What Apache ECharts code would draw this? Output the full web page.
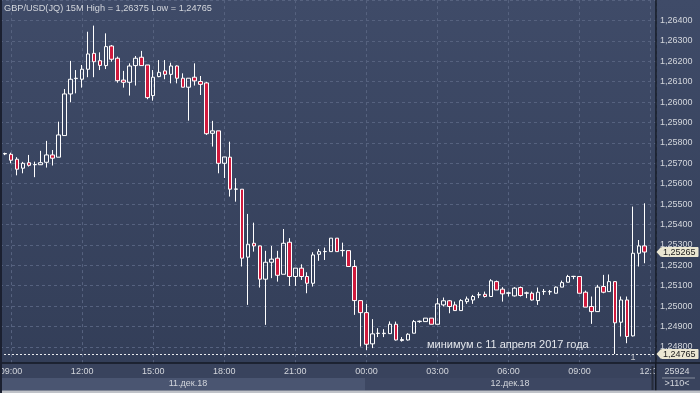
<!DOCTYPE html>
<html><head><meta charset="utf-8">
<script src="https://cdn.jsdelivr.net/npm/echarts/dist/echarts.min.js"></script>
<style>
html,body{margin:0;padding:0;background:#37425d;overflow:hidden;width:700px;height:393px;}
#c{width:763px;height:393px;margin-left:-63px;background:linear-gradient(#3f4b68,#323d57);}
</style>
</head><body><div id="c"></div>
<script>
// ---- data (GBP/USD 15M bars, 08:45 11 Dec -> 11:45 12 Dec) ----
const timeLabels = ['09:00','12:00','15:00','18:00','21:00','00:00','03:00','06:00','09:00','12:00'];
const dateLabels = ['11.дек.18','12.дек.18'];
const titleText = 'GBP/USD(JQ) 15M High = 1,26375 Low = 1,24765';
const noteText = 'минимум с 11 апреля 2017 года';
const volumeText = '25924';
const barCountText = '>110<';
const markerText = '1';
const lowLevel = 1.24765;
const lastLevel = 1.25265;
const firstSlot = -1; // first bar is one 15-min slot before 09:00

const opens = [
1.25746,1.25744,1.25720,1.25676,1.25703,1.25693,1.25693,1.25705,1.25741,1.25730,
1.25836,1.26040,1.26115,1.26112,1.26161,1.26239,1.26203,1.26179,1.26275,1.26215,
1.26108,1.26097,1.26179,1.26220,1.26182,1.26032,1.26125,1.26153,1.26136,1.26177,
1.26117,1.26073,1.26122,1.26101,1.26094,1.25847,1.25859,1.25700,1.25730,1.25573,
1.25573,1.25240,1.25308,1.25295,1.25132,1.25215,1.25235,1.25156,1.25313,1.25145,
1.25186,1.25145,1.25112,1.25254,1.25267,1.25267,1.25333,1.25272,1.25272,1.25194,
1.25027,1.24968,1.24815,1.24866,1.24865,1.24865,1.24911,1.24831,1.24834,1.24867,
1.24924,1.24924,1.24941,1.24911,1.25006,1.25026,1.25006,1.24978,1.25022,1.25030,
1.25055,1.25058,1.25047,1.25120,1.25083,1.25063,1.25050,1.25091,1.25063,1.25063,
1.25027,1.25071,1.25070,1.25063,1.25093,1.25117,1.25145,1.25145,1.25068,1.24998,
1.24973,1.25096,1.25071,1.25120,1.24921,1.25030,1.24854,1.25259,1.25295];
const closes = [
1.25748,1.25715,1.25671,1.25700,1.25690,1.25694,1.25703,1.25741,1.25725,1.25839,
1.26040,1.26112,1.26117,1.26161,1.26236,1.26198,1.26180,1.26272,1.26210,1.26105,
1.26097,1.26177,1.26215,1.26179,1.26022,1.26122,1.26146,1.26136,1.26177,1.26117,
1.26073,1.26117,1.26104,1.26087,1.25845,1.25859,1.25700,1.25731,1.25573,1.25574,
1.25235,1.25303,1.25295,1.25132,1.25215,1.25230,1.25151,1.25308,1.25145,1.25186,
1.25145,1.25112,1.25251,1.25267,1.25268,1.25333,1.25267,1.25273,1.25194,1.25027,
1.24968,1.24813,1.24864,1.24867,1.24867,1.24911,1.24834,1.24836,1.24862,1.24924,
1.24926,1.24941,1.24911,1.25011,1.25026,1.24998,1.24978,1.25027,1.25035,1.25047,
1.25056,1.25047,1.25124,1.25079,1.25060,1.25065,1.25088,1.25052,1.25065,1.25030,
1.25068,1.25072,1.25071,1.25093,1.25115,1.25145,1.25146,1.25063,1.24995,1.24973,
1.25093,1.25068,1.25120,1.24918,1.25030,1.24851,1.25259,1.25295,1.25265];
const lows = [
1.25740,1.25700,1.25641,1.25651,1.25684,1.25632,1.25692,1.25679,1.25689,1.25730,
1.25836,1.25999,1.26043,1.26071,1.26122,1.26122,1.26157,1.26162,1.26198,1.26095,
1.26071,1.26032,1.26081,1.26179,1.26014,1.26007,1.26122,1.26112,1.26092,1.26092,
1.26073,1.25909,1.26081,1.26035,1.25839,1.25782,1.25651,1.25628,1.25537,1.25512,
1.25194,1.25006,1.25267,1.25091,1.24908,1.25137,1.25120,1.25156,1.25099,1.25099,
1.25128,1.25063,1.25096,1.25222,1.25226,1.25267,1.25267,1.25243,1.25194,1.24957,
1.24802,1.24785,1.24794,1.24848,1.24848,1.24864,1.24831,1.24826,1.24831,1.24867,
1.24918,1.24924,1.24911,1.24911,1.24998,1.24965,1.24978,1.24978,1.25011,1.25011,
1.25039,1.25042,1.25047,1.25079,1.25022,1.25047,1.25047,1.25047,1.25039,1.25027,
1.25006,1.25055,1.25055,1.25063,1.25093,1.25117,1.25132,1.25063,1.24995,1.24913,
1.24973,1.25063,1.25071,1.24765,1.24851,1.24818,1.24851,1.25194,1.25210];
const highs = [
1.25752,1.25752,1.25730,1.25707,1.25741,1.25708,1.25761,1.25810,1.25765,1.25904,
1.26064,1.26202,1.26157,1.26182,1.26345,1.26375,1.26244,1.26337,1.26280,1.26223,
1.26153,1.26190,1.26226,1.26251,1.26182,1.26157,1.26206,1.26206,1.26193,1.26180,
1.26141,1.26117,1.26190,1.26128,1.26099,1.25908,1.25859,1.25731,1.25806,1.25627,
1.25573,1.25452,1.25409,1.25295,1.25271,1.25295,1.25271,1.25378,1.25333,1.25186,
1.25205,1.25166,1.25264,1.25280,1.25287,1.25333,1.25333,1.25311,1.25272,1.25226,
1.25027,1.25011,1.24936,1.24892,1.24887,1.24925,1.24924,1.24848,1.24867,1.24932,
1.24929,1.24941,1.24941,1.25039,1.25042,1.25030,1.25022,1.25034,1.25047,1.25055,
1.25068,1.25071,1.25132,1.25125,1.25093,1.25071,1.25093,1.25096,1.25071,1.25071,
1.25091,1.25084,1.25079,1.25096,1.25125,1.25153,1.25148,1.25145,1.25076,1.25047,
1.25104,1.25153,1.25155,1.25120,1.25047,1.25047,1.25488,1.25324,1.25504];

// ---- build ----
const OX = 63; // canvas is shifted 63px left of the page so the first bars sit at the page edge
const font = 'Liberation Sans, Arial, sans-serif';
const gridColor = '#56627f';
const labelColor = '#d3d6dc';
const tagColor = '#ebe7d2';
const fmtPrice = v => v.toFixed(5).replace('.', ',');
const candles = opens.map((o, k) => [firstSlot + k, o, closes[k], lows[k], highs[k]]);

const txt = (text, x, y, extra) => Object.assign({
  type: 'text', x: x, y: y, z: 6, silent: true,
  style: Object.assign({text: text, fill: labelColor, fontSize: 9, fontFamily: font,
    align: 'center', verticalAlign: 'middle', textAlign: 'center', textVerticalAlign: 'middle'}, (extra && extra.style) || {})
}, extra && extra.z != null ? {z: extra.z} : {});
const rect = (x, y, w, h, fill, z) => ({type: 'rect', z: z, silent: true, shape: {x: x, y: y, width: w, height: h}, style: {fill: fill}});

const chart = echarts.init(document.getElementById('c'), null, {renderer: 'canvas'});
const baseGraphics = [
  rect(-OX, 363, 656 + OX, 15, '#39435d', 5),
  rect(-OX, 378, 365 + OX, 12.5, '#4a5571', 5),
  rect(365, 378, 291, 12.5, '#3d4762', 5),
  rect(651.5, 366, 2, 24, '#262c3b', 11),
  rect(656, 363, 44, 27.5, '#39435d', 12),
  rect(655, 363, 1.5, 28, '#151a25', 13),
  rect(656, 362.3, 44, 1.5, '#151a25', 13),
  {type: 'line', z: 13, silent: true, shape: {x1: 662, y1: 378, x2: 695, y2: 378}, style: {stroke: '#858c9c', lineWidth: 1}},
  rect(-OX, 390.5, 700 + OX, 2.5, '#bfc2c8', 13),
  rect(0, 0, 2, 393, '#1b2030', 13),
  txt(volumeText, 677, 371.5, {z: 14}),
  txt(barCountText, 677, 384, {z: 14}),
  txt(dateLabels[0], 188, 384),
  txt(dateLabels[1], 510, 384),
  txt(markerText, 633, 358, {style: {fill: '#c0c4cc'}}),
  txt(titleText, 4, 8.5, {style: {align: 'left', textAlign: 'left', fontSize: 9.2}}),
  txt(noteText, 427, 345, {style: {align: 'left', textAlign: 'left', fontSize: 11, fill: '#e4e7ec'}})
];
chart.setOption({
  animation: false,
  backgroundColor: 'transparent',
  grid: {left: 0, right: 44, top: 0.1, bottom: 25.7},
  xAxis: [
    {type: 'value', min: -12, max: 108.9, interval: 12, position: 'top',
     axisLine: {show: false}, axisTick: {show: false}, axisLabel: {show: false},
     splitLine: {show: true, lineStyle: {color: gridColor, type: [3, 3], width: 1}}},
    {type: 'value', min: -12, max: 108.9, interval: 12, position: 'bottom', offset: -4.3, z: 10,
     axisLine: {show: true, onZero: false, lineStyle: {color: '#151a25', width: 1.5}},
     axisTick: {show: false}, splitLine: {show: false},
     axisLabel: {color: labelColor, fontSize: 9, fontFamily: font, margin: 4,
       formatter: v => (v >= 0 && v % 12 === 0 && timeLabels[v / 12]) ? timeLabels[v / 12] : ''}}
  ],
  yAxis: {type: 'value', position: 'right', min: 1.247, max: 1.265, interval: 0.001,
    axisLine: {show: true, onZero: false, lineStyle: {color: '#151a25', width: 1.5}},
    axisTick: {show: false},
    splitLine: {show: true, lineStyle: {color: gridColor, type: [3, 3], width: 1}},
    axisLabel: {color: labelColor, fontSize: 9, fontFamily: font, margin: 4,
      showMinLabel: false, showMaxLabel: false, formatter: fmtPrice}},
  series: [{
    type: 'candlestick', xAxisIndex: 0, yAxisIndex: 0, data: candles,
    barWidth: 4, clip: false, silent: true,
    itemStyle: {color: 'transparent', color0: '#d01a3d', borderColor: '#ffffff',
      borderColor0: '#ffffff', borderColorDoji: '#ffffff', borderWidth: 1},
    markLine: {
      symbol: ['none', 'none'], silent: true, animation: false, precision: 5,
      label: {show: true, position: 'end', distance: 5, backgroundColor: tagColor,
        color: '#1b1b1b', fontSize: 9, fontFamily: font, padding: [1, 3, 0, 2], borderRadius: 1},
      data: [
        {yAxis: lowLevel, lineStyle: {color: '#e9ebef', type: [2, 2], width: 1},
         label: {formatter: fmtPrice(lowLevel)}},
        {yAxis: lastLevel, lineStyle: {color: 'rgba(0,0,0,0)', width: 1},
         label: {formatter: fmtPrice(lastLevel)}}
      ]
    }
  }],
  graphic: [{type: 'group', id: 'frame', x: OX, y: 0, children: baseGraphics}]
});

// little left-pointing arrows of the price tags, placed through the y scale
const arrows = [lowLevel, lastLevel].map(v => {
  const py = chart.convertToPixel({yAxisIndex: 0}, v);
  return {type: 'polygon', z: 20, silent: true,
    shape: {points: [[656.5, py], [661, py - 5], [661, py + 5]]}, style: {fill: tagColor}};
});
chart.setOption({graphic: [{type: 'group', id: 'frame', x: OX, y: 0, children: baseGraphics.concat(arrows)}]});
</script>
</body></html>
